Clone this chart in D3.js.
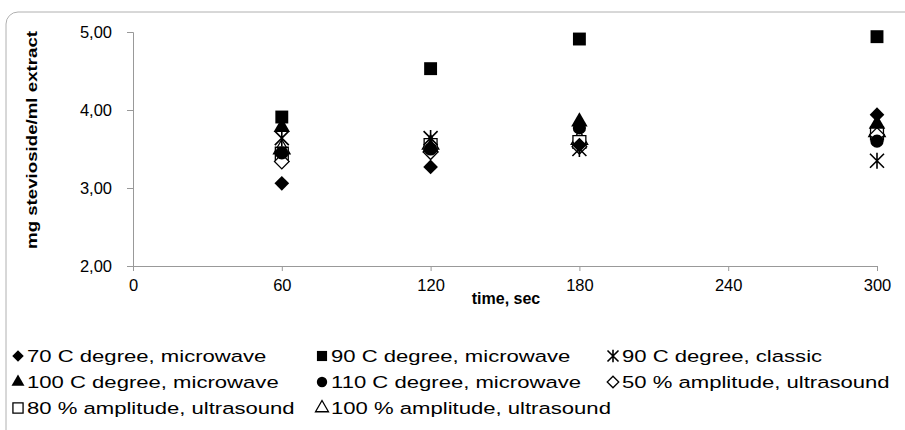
<!DOCTYPE html>
<html>
<head>
<meta charset="utf-8">
<script src="https://cdn.jsdelivr.net/npm/d3@7"></script>
<style>
  body { margin: 0; background: #fff; }
  text { font-family: "Liberation Sans", Arial, sans-serif; }
</style>
</head>
<body>
<svg id="chart"></svg>
<script>
let width = 905,
    height = 430;

let times = [60, 120, 180, 300];
let xTicks = [0, 60, 120, 180, 240, 300];
let yTicks = [2, 3, 4, 5];

let seriesNames = [
    '70 C degree, microwave', '90 C degree, microwave', '90 C degree, classic',
    '100 C degree, microwave', '110 C degree, microwave', '50 % amplitude, ultrasound',
    '80 % amplitude, ultrasound', '100 % amplitude, ultrasound'
];
let seriesShapes = ['diamond', 'square', 'star', 'triangle', 'circle', 'diamondOpen', 'squareOpen', 'triangleOpen'];

let mw70 = [3.06, 3.27, 3.55, 3.94];
let mw90 = [3.91, 4.53, 4.91, 4.94];
let classic90 = [3.64, 3.64, 3.50, 3.35];
let mw100 = [3.78, 3.52, 3.85, 3.82];
let mw110 = [3.45, 3.50, 3.77, 3.60];
let us50 = [3.34, 3.46, 3.53, 3.68];
let us80 = [3.44, 3.55, 3.59, 3.70];
let us100 = [3.50, 3.56, 3.62, 3.72];

let seriesValues = [mw70, mw90, classic90, mw100, mw110, us50, us80, us100];

let svg = d3.select('svg#chart')
    .attr('width', width)
    .attr('height', height);

// chart frame
svg.append('rect')
    .attr('x', 6).attr('y', 12)
    .attr('width', 920).attr('height', 440)
    .attr('rx', 12)
    .attr('fill', 'none')
    .attr('stroke', '#b0b0b0')
    .attr('stroke-width', 1);

let x = d3.scaleLinear().domain([0, 300]).range([133, 877]);
let y = d3.scaleLinear().domain([2, 5]).range([266, 32]);

let yAxis = svg.append('g')
    .attr('transform', 'translate(133,0)')
    .call(d3.axisLeft(y).tickValues(yTicks).tickSize(6).tickPadding(15)
        .tickFormat(d => d3.format('.2f')(d).replace('.', ',')));
yAxis.select('.domain').attr('stroke', '#999');
yAxis.selectAll('.tick line').attr('stroke', '#999');
yAxis.selectAll('.tick text').attr('font-size', 16.5).attr('fill', '#000');

let xAxis = svg.append('g')
    .attr('transform', 'translate(0,266)')
    .call(d3.axisBottom(x).tickValues(xTicks).tickSize(5).tickPadding(8).tickSizeOuter(0));
xAxis.select('.domain').attr('stroke', '#999');
xAxis.selectAll('.tick line').attr('stroke', '#999');
xAxis.selectAll('.tick text').attr('font-size', 16.5).attr('fill', '#000');

svg.append('text')
    .attr('x', 506).attr('y', 304)
    .attr('text-anchor', 'middle')
    .attr('font-size', 16).attr('font-weight', 'bold')
    .text('time, sec');

svg.append('text')
    .attr('transform', 'translate(37,140) rotate(-90)')
    .attr('text-anchor', 'middle')
    .attr('font-size', 14.5).attr('font-weight', 'bold')
    .attr('textLength', 218).attr('lengthAdjust', 'spacingAndGlyphs')
    .text('mg stevioside/ml extract');

let starPath = function(s) {
    let r = s / 2;
    return `M${-r},${-r}L${r},${r}M${r},${-r}L${-r},${r}M0,${-r * 1.15}L0,${r * 1.15}`;
};

function drawMarker(g, shape, s) {
    let sym;
    if (shape === 'star') {
        return g.append('path').attr('d', starPath(s)).attr('fill', 'none')
            .attr('stroke', '#000').attr('stroke-width', 1.6);
    }
    if (shape.startsWith('diamond')) sym = d3.symbol(d3.symbolSquare, s * s * 0.55);
    if (shape.startsWith('square')) sym = d3.symbol(d3.symbolSquare, s * s * 0.85);
    if (shape.startsWith('triangle')) sym = d3.symbol(d3.symbolTriangle, s * s * 0.6);
    if (shape.startsWith('circle')) sym = d3.symbol(d3.symbolCircle, s * s * 0.7);
    let p = g.append('path').attr('d', sym());
    if (shape.startsWith('diamond')) p.attr('transform', 'rotate(45)');
    if (shape.endsWith('Open')) {
        p.attr('fill', '#fff').attr('stroke', '#000').attr('stroke-width', 1.3);
    } else {
        p.attr('fill', '#000');
    }
    return p;
}

// points, drawn from the last series to the first so filled marks stay on top
let order = [7, 6, 5, 2, 4, 3, 0, 1];
for (let i of order) {
    let g = svg.append('g');
    seriesValues[i].forEach((v, j) => {
        let m = g.append('g').attr('transform', `translate(${x(times[j])},${y(v)})`);
        drawMarker(m, seriesShapes[i], 14);
    });
}

// legend (Excel text here is stretched wider than normal Arial)
let legendCols = [18, 322, 613];
let legendRows = [356, 382, 408];
seriesNames.forEach((name, i) => {
    let cx = legendCols[i % 3], cy = legendRows[Math.floor(i / 3)];
    let m = svg.append('g').attr('transform', `translate(${cx},${cy})`);
    drawMarker(m, seriesShapes[i], 11);
    svg.append('text')
        .attr('transform', `translate(${cx + 9},${cy + 6}) scale(1.3,1)`)
        .attr('font-size', 17)
        .text(name);
});
</script>
</body>
</html>
